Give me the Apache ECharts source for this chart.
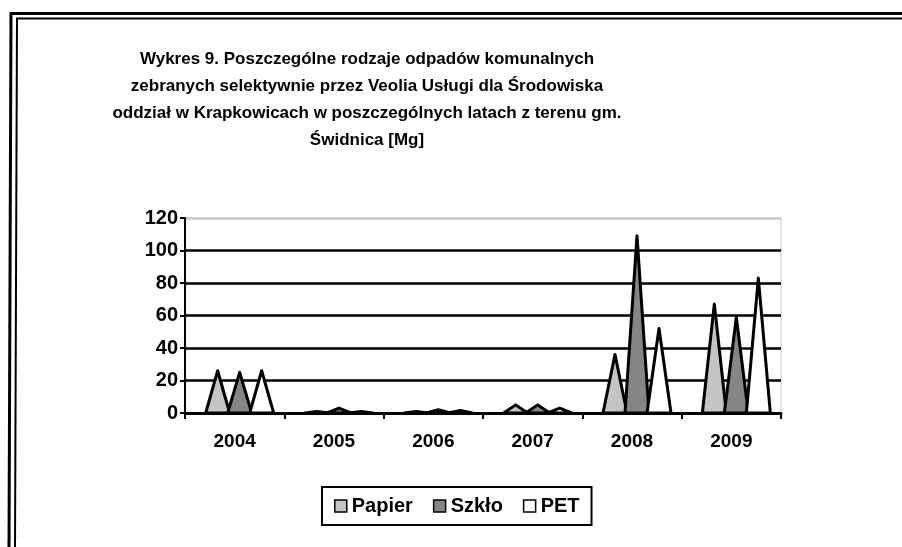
<!DOCTYPE html>
<html>
<head>
<meta charset="utf-8">
<script src="https://cdn.jsdelivr.net/npm/echarts@6/dist/echarts.min.js"></script>
<style>
  html, body { margin: 0; padding: 0; background: #fff; }
  #main { width: 902px; height: 547px; }
</style>
</head>
<body>
<div id="main"></div>
<script>
var years = ['2004', '2005', '2006', '2007', '2008', '2009'];
var papier = [26, 1, 1, 5, 36, 67];
var szklo = [25, 3, 2, 5, 109, 59];
var pet = [26, 1, 1.5, 3, 52, 83];
var yTicks = [0, 20, 40, 60, 80, 100, 120];

var font = 'Liberation Sans';
var chart = echarts.init(document.getElementById('main'));

// stozki rysowane jako trojkaty, kazda seria przesunieta w obrebie kategorii
function cone(name, data, color, slot) {
  return {
    name: name,
    type: 'custom',
    z: 5,
    itemStyle: { color: color, borderColor: '#000', borderWidth: 1.5 },
    data: data.map(function (v, i) { return [i, v]; }),
    encode: { x: 0, y: 1 },
    renderItem: function (params, api) {
      var top = api.coord([api.value(0), api.value(1)]);
      var base = api.coord([api.value(0), 0]);
      var half = 12;
      var cx = top[0] + slot * 22 + 5;
      return {
        type: 'polygon',
        shape: { points: [[cx - half, base[1]], [cx, top[1]], [cx + half, base[1]]] },
        style: { fill: color, stroke: '#000', lineWidth: 3, lineJoin: 'round' }
      };
    }
  };
}

var option = {
  backgroundColor: '#ffffff',
  animation: false,
  title: {
    text: 'Wykres 9. Poszczególne rodzaje odpadów komunalnych\nzebranych selektywnie przez Veolia Usługi dla Środowiska\noddział w Krapkowicach w poszczególnych latach z terenu gm.\nŚwidnica [Mg]',
    left: 367,
    top: 46,
    padding: 0,
    textAlign: 'center',
    textStyle: {
      fontFamily: font,
      fontSize: 17,
      fontWeight: 'bold',
      lineHeight: 27,
      color: '#000'
    }
  },
  legend: {
    data: ['Papier', 'Szkło', 'PET'],
    left: 322,
    top: 487,
    padding: [9, 12],
    borderColor: '#000',
    borderWidth: 2,
    itemWidth: 12,
    itemHeight: 12,
    itemGap: 20,
    icon: 'rect',
    itemStyle: { borderColor: '#000', borderWidth: 1.5 },
    textStyle: { fontFamily: font, fontSize: 20, fontWeight: 'bold', color: '#000' }
  },
  grid: {
    left: 185,
    right: 121,
    top: 218,
    bottom: 134,
    show: true,
    borderColor: '#c8c8c8',
    borderWidth: 1
  },
  xAxis: {
    type: 'category',
    data: years,
    axisLine: { lineStyle: { color: '#000', width: 3 } },
    axisTick: { show: true, length: 6, lineStyle: { color: '#000', width: 2 } },
    axisLabel: { margin: 19, fontFamily: font, fontSize: 19, fontWeight: 'bold', color: '#000' }
  },
  yAxis: {
    type: 'value',
    min: yTicks[0],
    max: yTicks[yTicks.length - 1],
    interval: 20,
    axisLine: { show: true, lineStyle: { color: '#000', width: 2 } },
    axisTick: { show: true, length: 5, lineStyle: { color: '#000', width: 2 } },
    axisLabel: { margin: 7, fontFamily: font, fontSize: 20, fontWeight: 'bold', color: '#000' },
    splitLine: {
      lineStyle: { color: ['#000', '#000', '#000', '#000', '#000', '#000', '#c8c8c8'], width: 2.5 }
    }
  },
  series: [
    cone('Papier', papier, '#c4c4c4', -1),
    cone('Szkło', szklo, '#858585', 0),
    cone('PET', pet, '#ffffff', 1)
  ],
  graphic: [
    { type: 'line', shape: { x1: 10, y1: 13.5, x2: 902, y2: 13.5 }, style: { stroke: '#000', lineWidth: 3 } },
    { type: 'line', shape: { x1: 16, y1: 18.5, x2: 902, y2: 18.5 }, style: { stroke: '#000', lineWidth: 2 } },
    { type: 'line', shape: { x1: 11, y1: 12, x2: 9, y2: 547 }, style: { stroke: '#000', lineWidth: 3 } },
    { type: 'line', shape: { x1: 17, y1: 18, x2: 15, y2: 547 }, style: { stroke: '#000', lineWidth: 2 } }
  ]
};

chart.setOption(option);
</script>
</body>
</html>
